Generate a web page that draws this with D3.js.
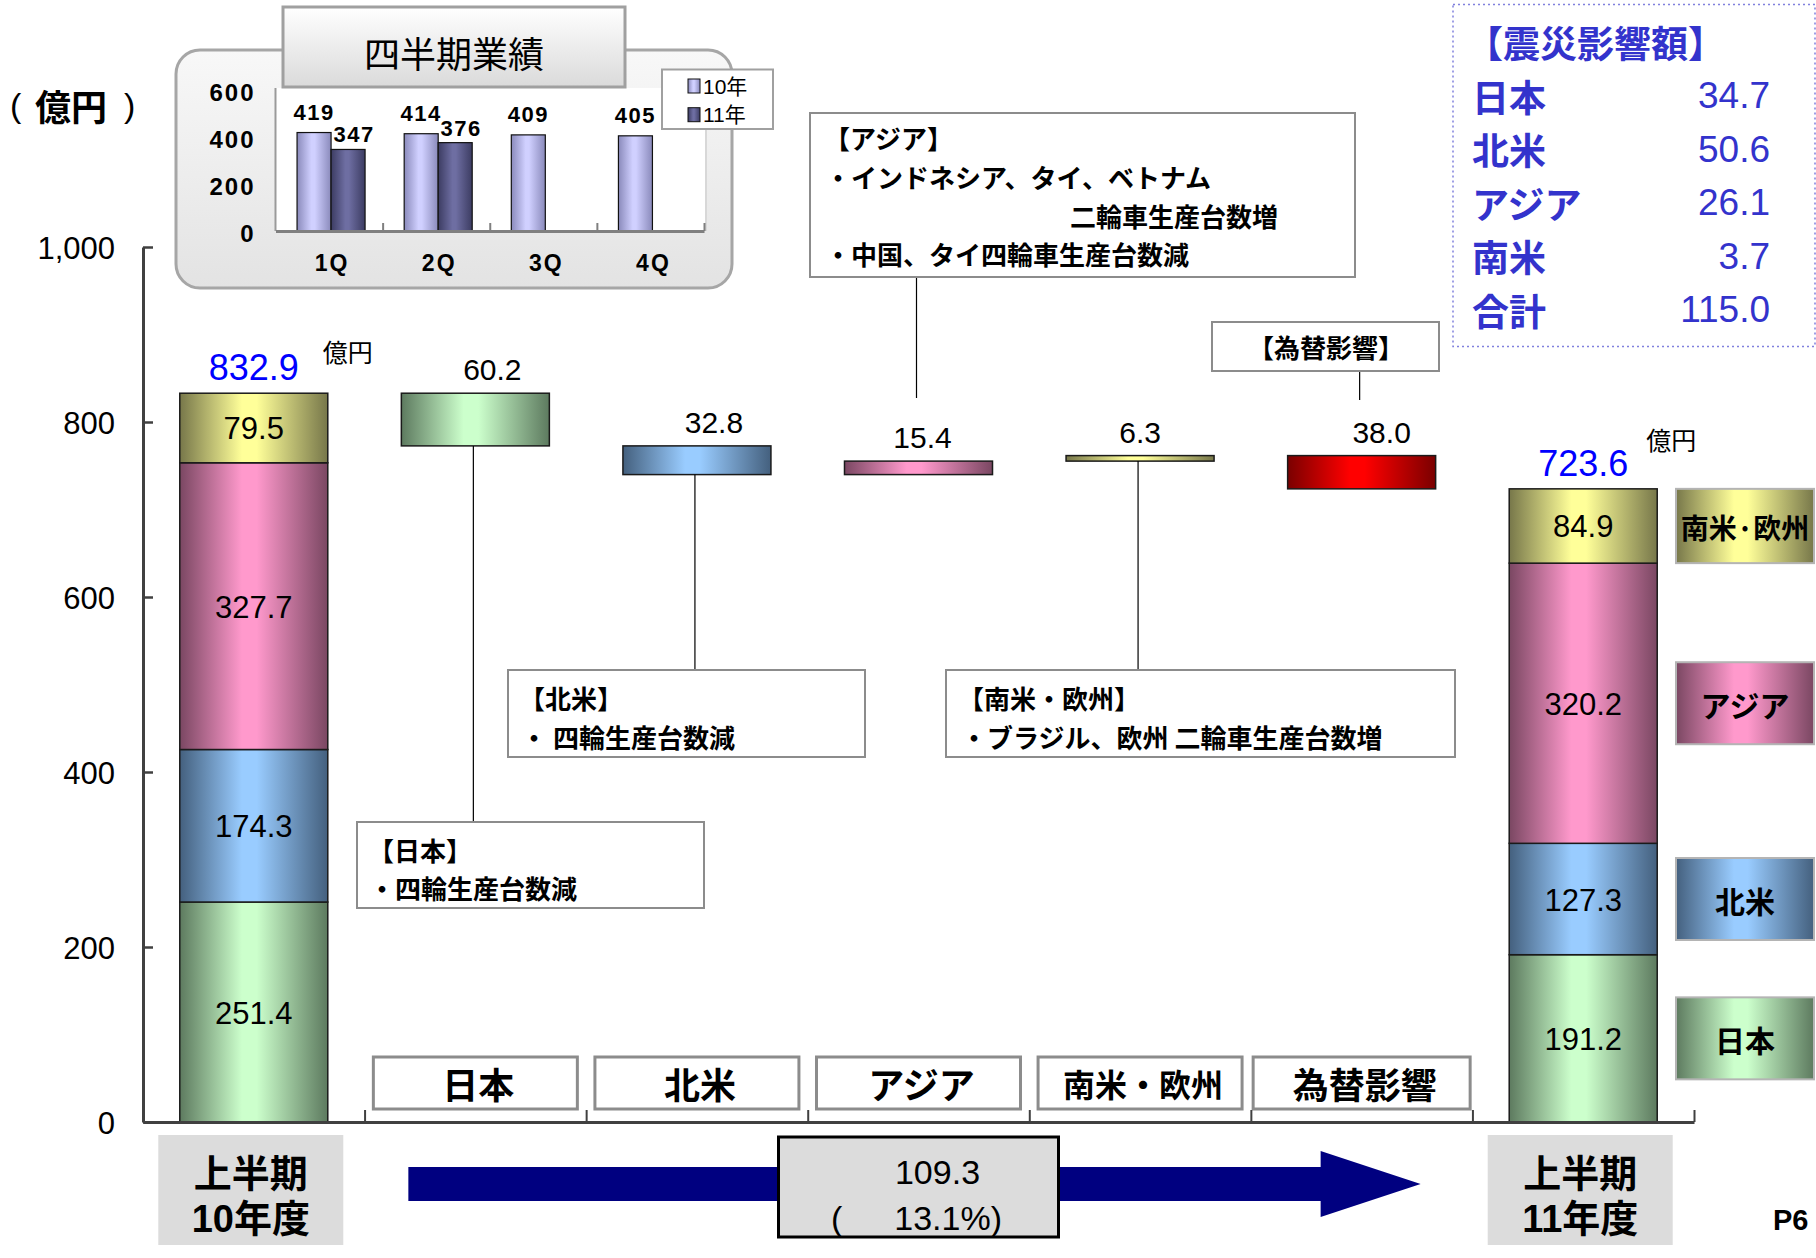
<!DOCTYPE html>
<html><head><meta charset="utf-8">
<script src="https://cdn.jsdelivr.net/npm/d3@7"></script>
<style>body{margin:0;background:#fff}svg{display:block}</style>
</head><body>
<svg id="c" width="1816" height="1258"></svg>
<script>
// ---------------- DATA ----------------
const regions = ["日本", "北米", "アジア", "南米・欧州"];
const legendLabels = ["日本", "北米", "アジア", "南米·欧州"];
const fy10Values = [251.4, 174.3, 327.7, 79.5];
const fy11Values = [191.2, 127.3, 320.2, 84.9];
const fy10Total = 832.9;
const fy11Total = 723.6;
const bridgeCategories = ["日本", "北米", "アジア", "南米・欧州", "為替影響"];
const bridgeDeltas = [-60.2, -32.8, 15.4, 6.3, -38.0];
const xCategories = ["上半期10年度", "日本", "北米", "アジア", "南米・欧州", "為替影響", "上半期11年度"];
const totalLabels = [["上半期", "10年度"], ["上半期", "11年度"]];
const yTicks = [0, 200, 400, 600, 800, 1000];
const changeValue = 109.3;
const changePct = 13.1;
const quarters = ["1Q", "2Q", "3Q", "4Q"];
const q10 = [419, 414, 409, 405];
const q11 = [347, 376];
const qSeries = ["10年", "11年"];
const qTicks = [0, 200, 400, 600];
const quakeLabels = ["日本", "北米", "アジア", "南米", "合計"];
const quakeValues = [34.7, 50.6, 26.1, 3.7, 115.0];

// ---------------- STYLE ----------------
const NUM = "'Liberation Sans', Arial, 'Noto Sans CJK JP', sans-serif";
const JP = "'Noto Sans CJK JP', 'Liberation Sans', sans-serif";
const barColors = [["#5d7a5f", "#ccffcc"], ["#44607e", "#99ccff"], ["#7a4762", "#ff99cc"], ["#77774a", "#ffff99"], ["#7a0000", "#ff0000"]];
const fmt1 = d3.format(".1f");

const svg = d3.select("#c");
const defs = svg.append("defs");
function hGrad(id, dark, light) {
  const g = defs.append("linearGradient").attr("id", id).attr("x1", 0).attr("x2", 1).attr("y1", 0).attr("y2", 0);
  [[0, dark], [0.42, light], [0.52, light], [1, dark]].forEach(s => g.append("stop").attr("offset", s[0]).attr("stop-color", s[1]));
}
barColors.forEach((c, i) => hGrad("g" + i, c[0], c[1]));
hGrad("q10", "#8a8abb", "#d0d0ff");
hGrad("q11", "#3c3c62", "#6e6ea2");
function vGrad(id, top, bot) {
  const g = defs.append("linearGradient").attr("id", id).attr("x1", 0).attr("x2", 0).attr("y1", 0).attr("y2", 1);
  g.append("stop").attr("offset", 0).attr("stop-color", top);
  g.append("stop").attr("offset", 1).attr("stop-color", bot);
}
vGrad("panel", "#f8f8f8", "#e3e3e3");
vGrad("title", "#ffffff", "#dadada");

function txt(g, x, y, s, o) {
  const t = g.append("text").attr("x", x).attr("y", y).text(s)
    .attr("font-family", o.family || NUM).attr("font-size", o.size)
    .attr("font-weight", o.weight || "normal").attr("fill", o.fill || "#000")
    .attr("text-anchor", o.anchor || "start");
  if (o.central) t.attr("dominant-baseline", "central");
  if (o.ls) t.attr("letter-spacing", o.ls);
  return t;
}

// ---------------- MAIN SCALES ----------------
const y = d3.scaleLinear().domain([0, 1000]).range([1122, 247]);
const x = d3.scaleBand().domain(xCategories).range([143, 1694]).paddingInner(0.332).paddingOuter(0.166);
const bw = x.bandwidth();
const cx = c => x(c) + bw / 2;

const main = svg.append("g");

// stacked totals
const rows = [
  Object.assign({ cat: xCategories[0] }, Object.fromEntries(regions.map((r, i) => [r, fy10Values[i]]))),
  Object.assign({ cat: xCategories[6] }, Object.fromEntries(regions.map((r, i) => [r, fy11Values[i]])))
];
const stacked = d3.stack().keys(regions)(rows);
stacked.forEach((layer, li) => {
  layer.forEach(d => {
    main.append("rect").attr("x", x(d.data.cat)).attr("width", bw)
      .attr("y", y(d[1])).attr("height", y(d[0]) - y(d[1]))
      .attr("fill", "url(#g" + li + ")").attr("stroke", "#1a1a1a").attr("stroke-width", 1.5);
    txt(main, cx(d.data.cat), (y(d[0]) + y(d[1])) / 2 + 1, fmt1(d[1] - d[0]), { size: 31, anchor: "middle", central: true });
  });
});

// totals & unit labels
const totals = [fy10Total, fy11Total];
const unitOff = [[-5, -42], [-11, -50]];
[xCategories[0], xCategories[6]].forEach((c, i) => {
  txt(main, cx(c), y(totals[i]) - 13, fmt1(totals[i]), { size: 36, anchor: "middle", fill: "#0000ff" });
  txt(main, x(c) + bw + unitOff[i][0], y(totals[i]) + unitOff[i][1], "億円", { family: JP, size: 25, central: true });
});

// legend boxes next to right bar
const lastRow = stacked.map(l => l[1]);
lastRow.forEach((d, i) => {
  const mid = (y(d[0]) + y(d[1])) / 2;
  const h = Math.min(82, y(d[0]) - y(d[1]));
  main.append("rect").attr("x", 1676).attr("y", mid - h / 2).attr("width", 138).attr("height", h)
    .attr("fill", "url(#g" + i + ")").attr("stroke", "#b4b4b4").attr("stroke-width", 2);
  txt(main, 1745, mid + 1, legendLabels[i], { family: JP, size: i === 3 ? 28 : 30, weight: "bold", anchor: "middle", central: true });
});

// waterfall bars
const bridgeLabelDx = [17, 17, 4, 0, 20];
let run = fy10Total;
const bridge = bridgeCategories.map((c, i) => {
  const s = run, e = run + bridgeDeltas[i];
  run = e;
  return { cat: c, lo: Math.min(s, e), hi: Math.max(s, e), v: Math.abs(bridgeDeltas[i]) };
});
bridge.forEach((d, i) => {
  main.append("rect").attr("x", x(d.cat)).attr("width", bw)
    .attr("y", y(d.hi)).attr("height", y(d.lo) - y(d.hi))
    .attr("fill", "url(#g" + i + ")").attr("stroke", "#1a1a1a").attr("stroke-width", 1.5);
  txt(main, cx(d.cat) + bridgeLabelDx[i], y(d.hi) - 13, fmt1(d.v), { size: 30, anchor: "middle" });
});

// callouts
const callouts = [
  { cat: "日本", box: [357, 822, 347, 86], below: true, lines: [["【日本】", 368, 849], ["・四輪生産台数減", 369, 887]] },
  { cat: "北米", box: [508, 670, 357, 87], below: true, lines: [["【北米】", 519, 697], ["・ 四輪生産台数減", 521, 736]] },
  { cat: "アジア", box: [810, 113, 545, 164], below: false, lineEnd: 398, lines: [["【アジア】", 824, 137], ["・インドネシア、タイ、ベトナム", 825, 176], ["二輪車生産台数増", 1070, 215], ["・中国、タイ四輪車生産台数減", 825, 253]] },
  { cat: "南米・欧州", box: [946, 670, 509, 87], below: true, lines: [["【南米・欧州】", 958, 697], ["・ブラジル、欧州 二輪車生産台数増", 961, 736]] },
  { cat: "為替影響", box: [1212, 322, 227, 49], below: false, lineEnd: 400, lines: [["【為替影響】", 1326, 346, "middle"]] }
];
callouts.forEach(co => {
  const b = bridge.find(d => d.cat === co.cat);
  const lx = cx(co.cat) - 2;
  if (co.below) {
    main.append("line").attr("x1", lx).attr("x2", lx).attr("y1", y(b.lo)).attr("y2", co.box[1]).attr("stroke", "#000").attr("stroke-width", 1.2);
  } else {
    main.append("line").attr("x1", lx).attr("x2", lx).attr("y1", co.box[1] + co.box[3]).attr("y2", co.lineEnd).attr("stroke", "#000").attr("stroke-width", 1.2);
  }
  main.append("rect").attr("x", co.box[0]).attr("y", co.box[1]).attr("width", co.box[2]).attr("height", co.box[3])
    .attr("fill", "#fff").attr("stroke", "#8c8c8c").attr("stroke-width", 2);
  co.lines.forEach(l => txt(main, l[1], l[2], l[0], { family: JP, size: 26, weight: "bold", anchor: l[3] || "start", central: true }));
});

// category boxes at the bottom
bridgeCategories.forEach((c, i) => {
  const w = i === 4 ? 217 : 204;
  main.append("rect").attr("x", cx(c) - w / 2).attr("y", 1057).attr("width", w).attr("height", 52)
    .attr("fill", "#fff").attr("stroke", "#8c8c8c").attr("stroke-width", 3);
  txt(main, cx(c) + 3, 1083, c, { family: JP, size: i === 3 ? 32 : 36, weight: "bold", anchor: "middle", central: true });
});

// axes
const yAxis = d3.axisLeft(y).tickValues(yTicks).tickSize(-10).tickSizeOuter(0).tickPadding(28).tickFormat(d3.format(","));
const ya = main.append("g").attr("transform", "translate(143,0)").call(yAxis);
ya.select(".domain").attr("stroke", "#404040").attr("stroke-width", 3);
ya.selectAll(".tick line").attr("stroke", "#404040").attr("stroke-width", 2.5);
ya.selectAll(".tick text").attr("font-family", NUM).attr("font-size", 31).attr("fill", "#000").attr("dy", "0.36em");

const xl = d3.scaleLinear().domain([0, xCategories.length]).range([143, 1694]);
const xa = main.append("g").attr("transform", "translate(0,1122)")
  .call(d3.axisBottom(xl).tickValues(d3.range(1, xCategories.length + 1)).tickSize(-12).tickSizeOuter(0).tickFormat(""));
xa.select(".domain").attr("stroke", "#404040").attr("stroke-width", 3);
xa.selectAll(".tick line").attr("stroke", "#404040").attr("stroke-width", 2);

// unit
txt(main, 10, 105, "(", { size: 34, central: true });
txt(main, 35, 105, "億円", { family: JP, size: 36, weight: "bold", central: true });
txt(main, 124, 105, ")", { size: 34, central: true });

// bottom total boxes
[xCategories[0], xCategories[6]].forEach((c, i) => {
  const c0 = cx(c) - 3;
  main.append("rect").attr("x", c0 - 92.5).attr("y", 1135).attr("width", 185).attr("height", 110).attr("fill", "#dcdcdc");
  txt(main, c0, 1174, totalLabels[i][0], { family: NUM, size: 38, weight: "bold", anchor: "middle", central: true });
  txt(main, c0, 1219, totalLabels[i][1], { family: NUM, size: 38, weight: "bold", anchor: "middle", central: true });
});

// arrow
const ax0 = x("日本") + 7, axb = x("為替影響") + 33, axt = x("為替影響") + bw - 15;
main.append("polygon").attr("fill", "#000080")
  .attr("points", [[ax0, 1167], [axb, 1167], [axb, 1151], [axt, 1184], [axb, 1217], [axb, 1201], [ax0, 1201]].map(p => p.join(",")).join(" "));
const bcx = cx("アジア");
main.append("rect").attr("x", bcx - 140).attr("y", 1137).attr("width", 280).attr("height", 100)
  .attr("fill", "#dcdcdc").attr("stroke", "#000").attr("stroke-width", 3);
txt(main, bcx + 19, 1172, fmt1(changeValue), { size: 34, anchor: "middle", central: true });
txt(main, 831, 1218, "(", { size: 34, central: true });
txt(main, 1002, 1218, fmt1(changePct) + "%)", { size: 34, anchor: "end", central: true });

txt(main, 1773, 1230, "P6", { size: 29, weight: "bold" });

// ---------------- QUAKE BOX ----------------
const qb = svg.append("g");
qb.append("rect").attr("x", 1453).attr("y", 4.5).attr("width", 362).attr("height", 342)
  .attr("fill", "none").attr("stroke", "#8080dd").attr("stroke-width", 1.5).attr("stroke-dasharray", "2,3");
txt(qb, 1466, 42, "【震災影響額】", { family: JP, size: 37, weight: "bold", fill: "#3333cc", central: true });
quakeLabels.forEach((l, i) => {
  const yy = 95.5 + i * 53.5;
  txt(qb, 1472, yy, l, { family: JP, size: 37, weight: "bold", fill: "#3333cc", central: true });
  txt(qb, 1770, yy, fmt1(quakeValues[i]), { size: 37, fill: "#3333cc", anchor: "end", central: true });
});

// ---------------- INSET ----------------
const ins = svg.append("g");
ins.append("rect").attr("x", 176).attr("y", 50).attr("width", 556).attr("height", 238).attr("rx", 24)
  .attr("fill", "url(#panel)").attr("stroke", "#a6a6a6").attr("stroke-width", 3);
ins.append("rect").attr("x", 275.5).attr("y", 88).attr("width", 431).attr("height", 143).attr("fill", "#fff");
ins.append("line").attr("x1", 706).attr("x2", 706).attr("y1", 88).attr("y2", 231).attr("stroke", "#d8d8d8").attr("stroke-width", 2);
ins.append("line").attr("x1", 275.5).attr("x2", 275.5).attr("y1", 88).attr("y2", 231).attr("stroke", "#9a9a9a").attr("stroke-width", 2);

const ix = d3.scaleBand().domain(quarters).range([275.5, 704]);
const isub = d3.scaleBand().domain(qSeries).range([2, ix.bandwidth() + 2]).paddingOuter(0.575);
const iy = d3.scaleLinear().domain([0, 600]).range([231, 90]);
const qData = [q10, q11];
qData.forEach((vals, si) => {
  vals.forEach((v, qi) => {
    const q = quarters[qi];
    ins.append("rect").attr("x", ix(q) + isub(qSeries[si])).attr("width", isub.bandwidth())
      .attr("y", iy(v)).attr("height", iy(0) - iy(v))
      .attr("fill", "url(#q" + (si ? "11" : "10") + ")").attr("stroke", "#111").attr("stroke-width", 1.2);
    txt(ins, ix(q) + isub(qSeries[si]) + isub.bandwidth() / 2 + (si ? 6 : 0), iy(v) - (si ? 7 : 13), v, { size: 22, weight: "bold", anchor: "middle", ls: 1.5 });
  });
});
const iya = ins.append("g").attr("transform", "translate(275.5,3)").call(d3.axisLeft(iy).tickValues(qTicks).tickSize(0).tickPadding(20));
iya.select(".domain").remove();
iya.selectAll(".tick text").attr("font-family", NUM).attr("font-size", 24).attr("font-weight", "bold").attr("fill", "#000").attr("letter-spacing", 2);
const ixl = d3.scaleLinear().domain([0, quarters.length]).range([275.5, 704]);
const ixa = ins.append("g").attr("transform", "translate(0,231)")
  .call(d3.axisBottom(ixl).tickValues(d3.range(1, quarters.length + 1)).tickSize(-8).tickSizeOuter(0).tickFormat(""));
ixa.select(".domain").attr("stroke", "#7f7f7f").attr("stroke-width", 3);
ixa.selectAll(".tick line").attr("stroke", "#7f7f7f").attr("stroke-width", 2);
quarters.forEach(q => txt(ins, ix(q) + ix.bandwidth() / 2 + 3, 263, q, { size: 23, weight: "bold", anchor: "middle", central: true, ls: 2 }));

// legend
ins.append("rect").attr("x", 662).attr("y", 69.5).attr("width", 111).attr("height", 59.5).attr("fill", "#fff").attr("stroke", "#a0a0a0").attr("stroke-width", 2);
qSeries.forEach((s, i) => {
  const yy = 86 + i * 28.7;
  ins.append("rect").attr("x", 688).attr("y", yy - 7).attr("width", 12).attr("height", 14)
    .attr("fill", "url(#q" + (i ? "11" : "10") + ")").attr("stroke", "#111").attr("stroke-width", 1);
  txt(ins, 703, yy, s, { size: 21, central: true });
});

// title
ins.append("rect").attr("x", 283).attr("y", 7).attr("width", 342).attr("height", 80)
  .attr("fill", "url(#title)").attr("stroke", "#a0a0a0").attr("stroke-width", 3);
txt(ins, 454, 52, "四半期業績", { family: JP, size: 36, anchor: "middle", central: true });
</script>
</body></html>
